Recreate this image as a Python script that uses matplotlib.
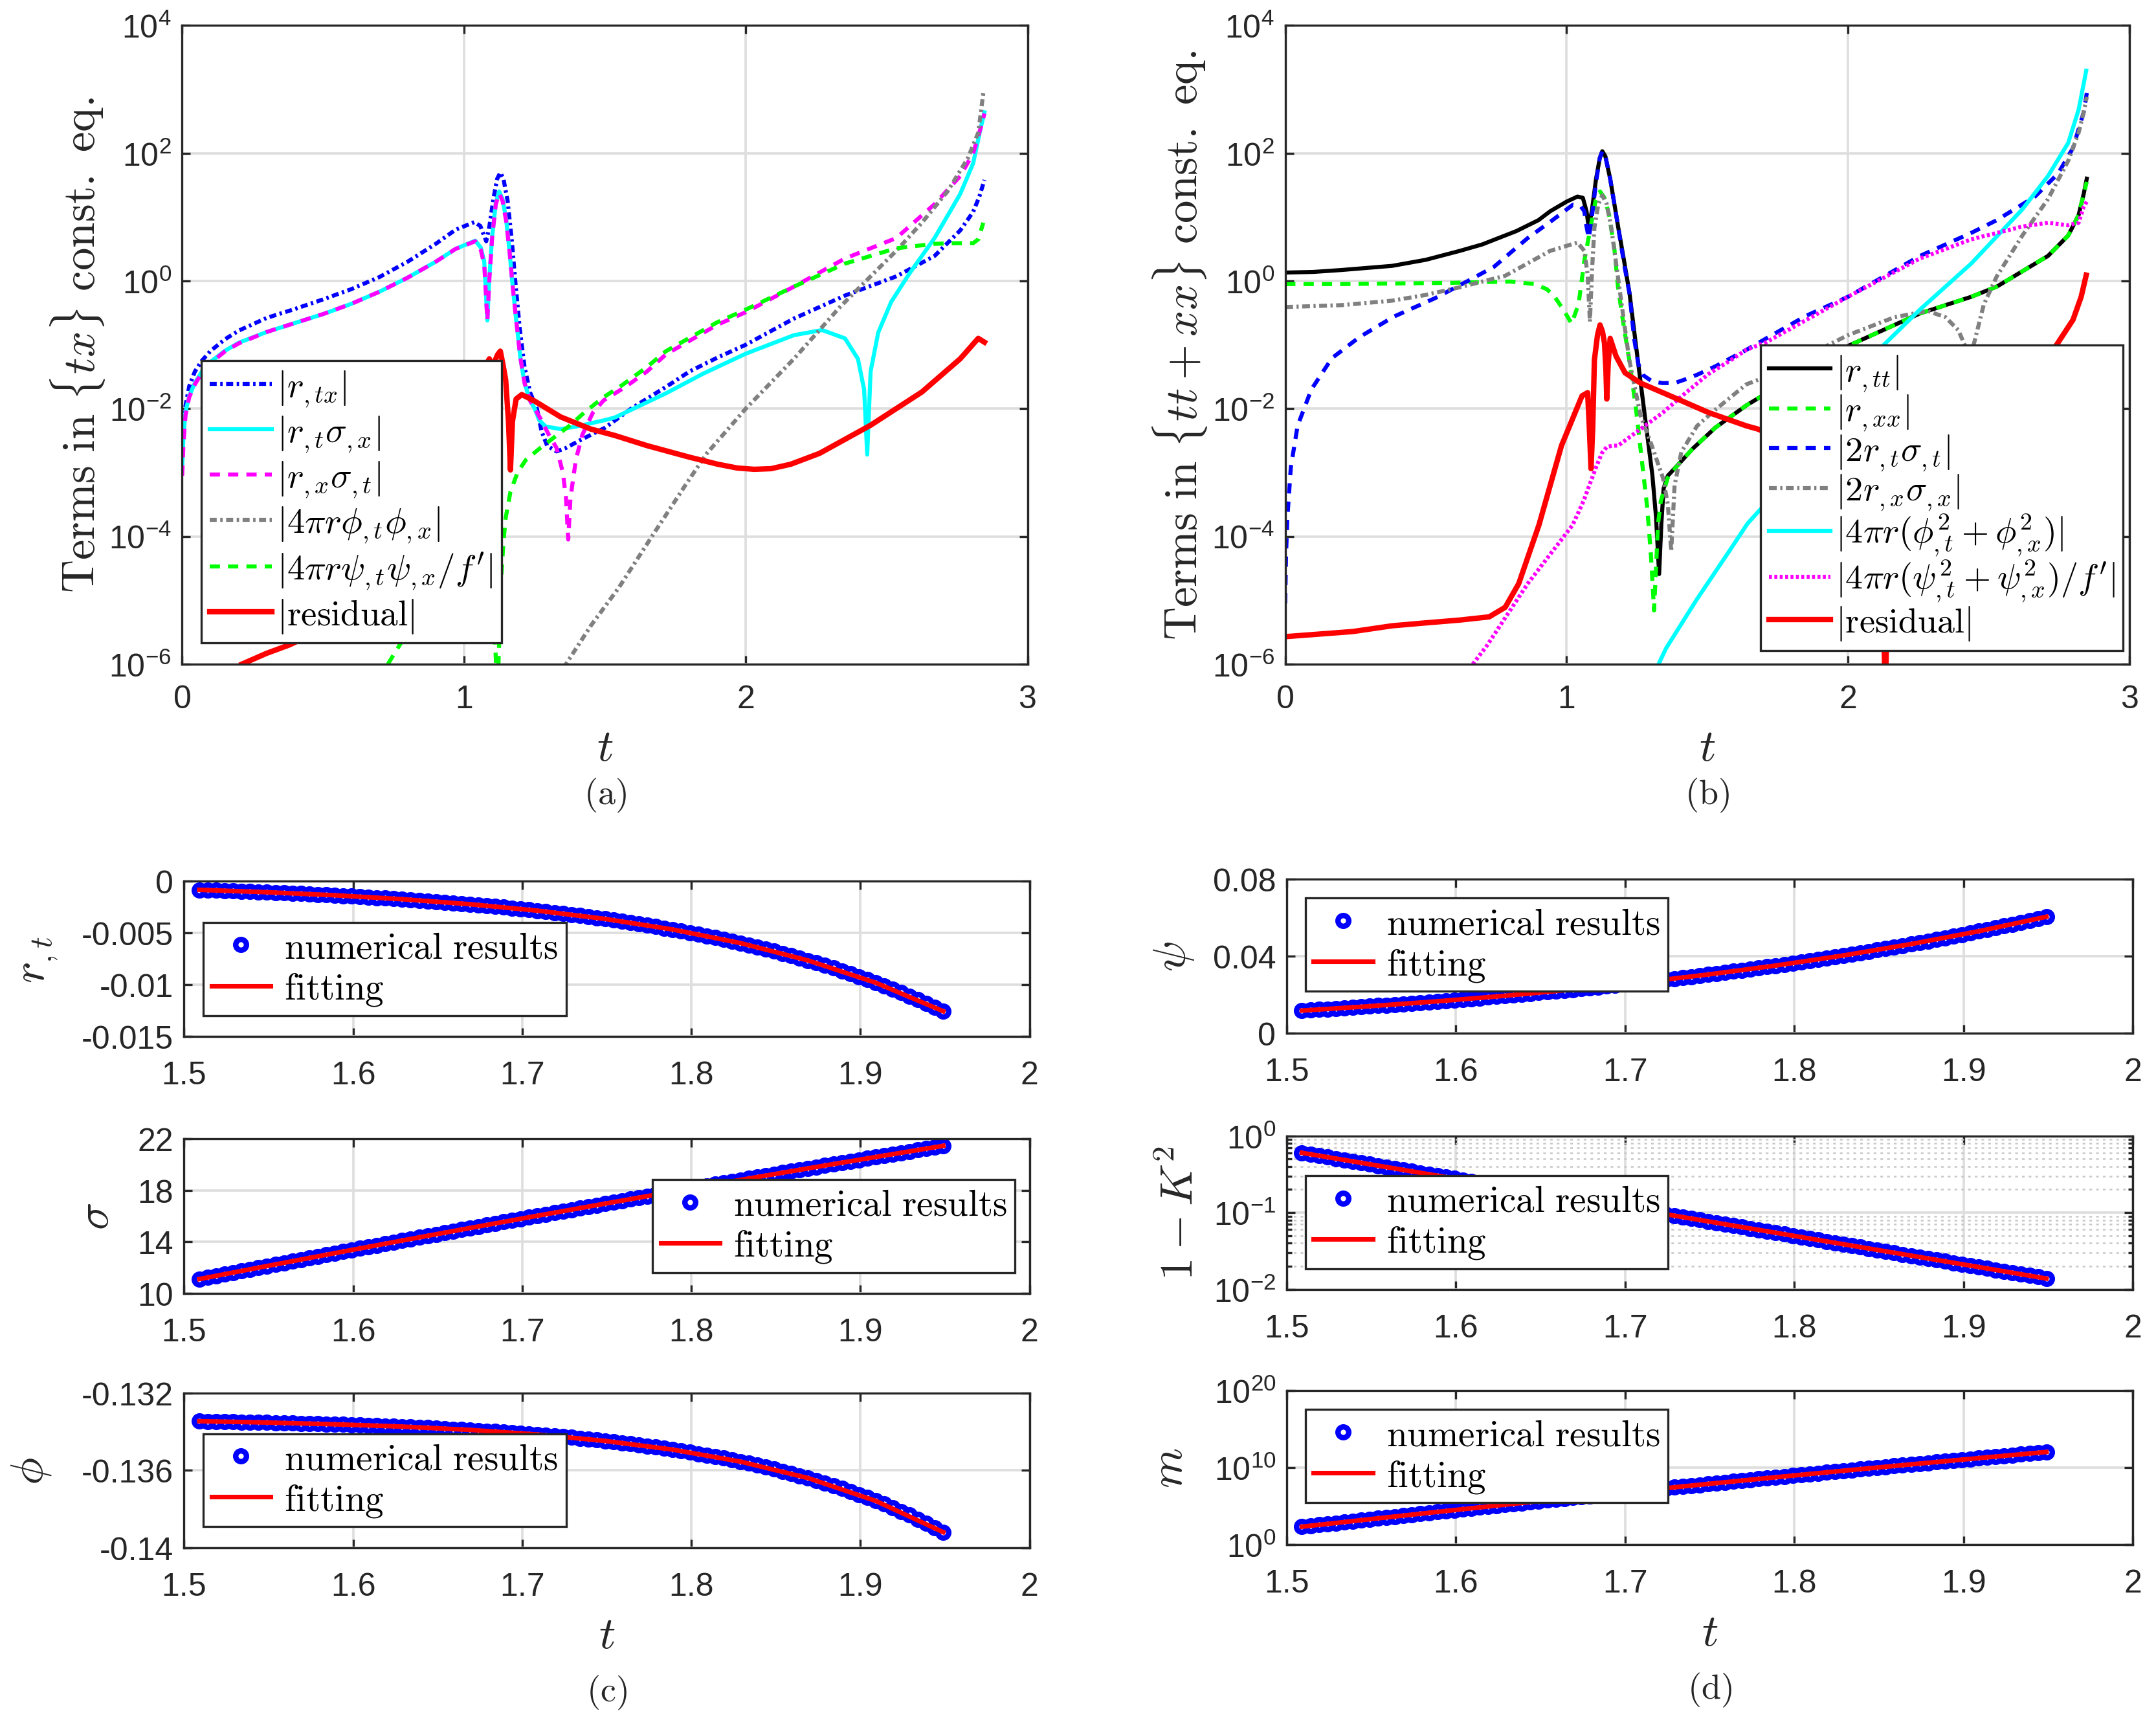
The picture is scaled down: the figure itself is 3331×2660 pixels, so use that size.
import numpy as np
import matplotlib
matplotlib.use("Agg")
import matplotlib.pyplot as plt
from matplotlib.ticker import FixedLocator, FixedFormatter, NullLocator, LogLocator

plt.rcParams['font.family'] = ['Liberation Sans', 'DejaVu Sans']
plt.rcParams['mathtext.fontset'] = 'cm'
plt.rcParams['lines.scale_dashes'] = False
plt.rcParams['axes.unicode_minus'] = False

AX = '#262626'
GRID = '#dedede'

# ---------------- panel (a): terms in {tx} constraint (t, log10|term|)
a_rtx_t = [0.0, 0.005, 0.012, 0.025, 0.045, 0.07, 0.1, 0.15, 0.2, 0.3, 0.4, 0.5, 0.6, 0.7, 0.8, 0.9, 0.97,
           1.037, 1.058, 1.072, 1.079, 1.09, 1.105, 1.118, 1.129, 1.14, 1.155, 1.17, 1.182, 1.198, 1.215,
           1.235, 1.259, 1.275, 1.295, 1.328, 1.36, 1.41, 1.5, 1.6, 1.717, 1.8, 1.9, 2.0, 2.171, 2.352,
           2.534, 2.67, 2.761, 2.807, 2.829, 2.847]
a_rtx_l = [-2.75, -2.3, -1.95, -1.65, -1.42, -1.25, -1.10, -0.92, -0.78, -0.58, -0.44, -0.29, -0.13, 0.06, 0.30,
           0.58, 0.80, 0.92, 0.86, 0.70, 0.62, 0.85, 1.30, 1.60, 1.695, 1.60, 1.25, 0.62, 0.0, -0.75, -1.35,
           -1.75, -2.0, -2.35, -2.58, -2.67, -2.62, -2.50, -2.30, -1.98, -1.66, -1.42, -1.20, -1.0, -0.59, -0.23,
           0.07, 0.39, 0.79, 1.08, 1.32, 1.58]

a_rtsx_t = [0.0, 0.005, 0.012, 0.025, 0.045, 0.07, 0.1, 0.15, 0.2, 0.3, 0.4, 0.5, 0.6, 0.7, 0.8, 0.9, 0.97,
            1.04, 1.06, 1.072, 1.083, 1.09, 1.1, 1.113, 1.125, 1.137, 1.15, 1.162, 1.171, 1.185, 1.2, 1.215,
            1.235, 1.251, 1.267, 1.29, 1.343, 1.4, 1.5, 1.535, 1.717, 1.85, 2.0, 2.171, 2.271, 2.352, 2.398,
            2.42, 2.431, 2.443, 2.47, 2.516, 2.58, 2.67, 2.761, 2.807, 2.834, 2.847]
a_rtsx_l = [-2.9, -2.4, -2.05, -1.8, -1.6, -1.42, -1.27, -1.10, -0.97, -0.80, -0.66, -0.52, -0.36, -0.17, 0.05,
            0.30, 0.50, 0.63, 0.52, 0.30, -0.62, 0.05, 0.70, 1.22, 1.40, 1.28, 0.95, 0.45, 0.0, -0.6, -1.2, -1.6,
            -1.88, -2.0, -2.18, -2.28, -2.32, -2.28, -2.18, -2.14, -1.76, -1.45, -1.14, -0.85, -0.77, -0.90, -1.22,
            -1.70, -2.72, -1.42, -0.81, -0.33, 0.11, 0.67, 1.36, 1.84, 2.40, 2.64]

a_rxst_t = [0.0, 0.005, 0.012, 0.025, 0.045, 0.07, 0.1, 0.15, 0.2, 0.3, 0.4, 0.5, 0.6, 0.7, 0.8, 0.9, 0.97,
            1.04, 1.06, 1.072, 1.083, 1.09, 1.1, 1.113, 1.125, 1.137, 1.15, 1.162, 1.171, 1.185, 1.2, 1.215,
            1.235, 1.251, 1.267, 1.3, 1.328, 1.351, 1.362, 1.37, 1.378, 1.397, 1.42, 1.458, 1.496, 1.573,
            1.649, 1.717, 1.898, 2.0, 2.171, 2.352, 2.534, 2.67, 2.761, 2.807, 2.834, 2.847]
a_rxst_l = [-3.05, -2.5, -2.1, -1.82, -1.62, -1.44, -1.29, -1.11, -0.98, -0.80, -0.66, -0.52, -0.36, -0.17, 0.05,
            0.30, 0.50, 0.62, 0.48, 0.25, -0.62, 0.02, 0.68, 1.20, 1.37, 1.25, 0.93, 0.45, 0.0, -0.6, -1.2, -1.6,
            -1.88, -2.0, -2.12, -2.4, -2.61, -3.0, -3.4, -4.05, -3.4, -2.80, -2.41, -2.06, -1.87, -1.66, -1.42,
            -1.15, -0.69, -0.49, -0.09, 0.35, 0.67, 1.20, 1.64, 2.0, 2.40, 2.62]

a_phi_t = [1.33, 1.362, 1.45, 1.55, 1.67, 1.79, 1.862, 2.0, 2.171, 2.334, 2.443, 2.534, 2.625, 2.716, 2.788,
           2.825, 2.843]
a_phi_l = [-6.3, -6.0, -5.4, -4.8, -3.98, -3.17, -2.70, -2.0, -1.22, -0.41, 0.07, 0.47, 0.91, 1.40, 1.92, 2.32, 2.94]

a_psi_t = [0.73, 0.8, 0.9, 1.0, 1.06, 1.09, 1.105, 1.112, 1.118, 1.124, 1.13, 1.14, 1.148, 1.165, 1.19, 1.22,
           1.267, 1.32, 1.374, 1.43, 1.496, 1.562, 1.649, 1.717, 1.898, 2.0, 2.171, 2.352, 2.534, 2.67, 2.743,
           2.807, 2.825, 2.843]
a_psi_l = [-6.0, -5.5, -4.9, -4.4, -4.2, -4.3, -5.0, -5.8, -6.5, -5.8, -4.8, -4.1, -3.71, -3.3, -3.0, -2.8,
           -2.63, -2.45, -2.27, -2.05, -1.82, -1.63, -1.35, -1.10, -0.65, -0.45, -0.09, 0.27, 0.51, 0.58, 0.59,
           0.59, 0.65, 0.91]

a_res_t = [0.212, 0.3, 0.38, 0.5, 0.6, 0.7, 0.8, 0.9, 0.98, 1.03, 1.06, 1.08, 1.09, 1.1, 1.11, 1.12, 1.129,
           1.138, 1.148, 1.158, 1.165, 1.172, 1.185, 1.205, 1.25, 1.343, 1.45, 1.535, 1.65, 1.8, 1.9, 1.97,
           2.03, 2.09, 2.16, 2.262, 2.443, 2.625, 2.761, 2.825, 2.847]
a_res_l = [-6.0, -5.83, -5.70, -5.45, -5.2, -4.8, -4.3, -3.6, -2.8, -2.1, -1.6, -1.3, -1.22, -1.35, -1.25,
           -1.15, -1.10, -1.3, -1.55, -2.2, -2.96, -2.2, -1.85, -1.78, -1.88, -2.13, -2.32, -2.42, -2.58, -2.76,
           -2.87, -2.93, -2.95, -2.94, -2.87, -2.70, -2.26, -1.74, -1.22, -0.90, -0.96]

# ---------------- panel (b): terms in {tt+xx} constraint (t, log10|term|)
b_rtt_t = [0.0, 0.1, 0.2, 0.38, 0.5, 0.621, 0.7, 0.822, 0.9, 0.942, 1.0, 1.039, 1.058, 1.071, 1.079, 1.09,
           1.105, 1.118, 1.127, 1.138, 1.155, 1.184, 1.205, 1.224, 1.245, 1.265, 1.285, 1.305, 1.318, 1.329,
           1.337, 1.345, 1.36, 1.394, 1.45, 1.504, 1.528, 1.639, 1.71, 1.85, 2.0, 2.256, 2.438, 2.529, 2.62,
           2.711, 2.783, 2.82, 2.838, 2.849]
b_rtt_l = [0.13, 0.14, 0.17, 0.235, 0.33, 0.47, 0.57, 0.78, 0.95, 1.09, 1.24, 1.32, 1.30, 1.09, 0.83, 1.1,
           1.6, 1.92, 2.03, 1.95, 1.6, 0.83, 0.3, -0.20, -0.95, -1.65, -2.35, -3.04, -3.7, -4.59, -3.8, -3.25,
           -3.05, -2.89, -2.62, -2.40, -2.30, -1.95, -1.76, -1.38, -1.02, -0.51, -0.25, -0.09, 0.15, 0.39, 0.71,
           1.03, 1.36, 1.60]

b_rxx_t = [0.0, 0.2, 0.4, 0.6, 0.8, 0.886, 0.93, 0.958, 0.99, 1.018, 1.043, 1.063, 1.087, 1.103, 1.119, 1.135,
           1.151, 1.17, 1.183, 1.203, 1.223, 1.247, 1.271, 1.287, 1.30, 1.311, 1.318, 1.325, 1.335, 1.345, 1.36,
           1.394, 1.45, 1.504, 1.528, 1.639, 1.71, 1.85, 2.0, 2.256, 2.438, 2.529, 2.62, 2.711, 2.783, 2.82,
           2.838, 2.849]
b_rxx_l = [-0.05, -0.05, -0.04, -0.03, -0.01, -0.05, -0.13, -0.25, -0.46, -0.67, -0.36, 0.31, 0.88, 1.25, 1.40,
           1.30, 1.04, 0.5, -0.10, -0.7, -1.24, -2.01, -2.94, -3.56, -4.3, -5.16, -4.5, -3.81, -3.45, -3.30,
           -3.08, -2.89, -2.62, -2.40, -2.30, -1.95, -1.76, -1.38, -1.02, -0.51, -0.25, -0.09, 0.15, 0.39, 0.71,
           1.03, 1.36, 1.55]

b_2rtst_t = [0.0, 0.003, 0.0073, 0.02, 0.044, 0.093, 0.166, 0.264, 0.386, 0.533, 0.65, 0.742, 0.862, 0.95,
             1.022, 1.05, 1.063, 1.071, 1.079, 1.09, 1.105, 1.118, 1.127, 1.138, 1.155, 1.184, 1.205, 1.224,
             1.24, 1.255, 1.27, 1.303, 1.34, 1.384, 1.43, 1.464, 1.528, 1.639, 1.71, 1.85, 2.0, 2.256, 2.438,
             2.529, 2.665, 2.747, 2.80, 2.838, 2.849]
b_2rtst_l = [-5.05, -4.3, -3.74, -2.92, -2.27, -1.70, -1.21, -0.88, -0.56, -0.27, 0.0, 0.22, 0.67, 0.95,
             1.19, 1.17, 1.09, 0.85, 0.67, 1.0, 1.55, 1.92, 2.03, 1.95, 1.6, 0.83, 0.25, -0.2, -0.9, -1.3,
             -1.47, -1.57, -1.60, -1.60, -1.53, -1.47, -1.34, -1.08, -0.90, -0.55, -0.25, 0.39, 0.75, 0.95,
             1.32, 1.68, 2.08, 2.64, 2.94]

b_2rxsx_t = [0.0, 0.2, 0.38, 0.5, 0.621, 0.782, 0.942, 1.039, 1.063, 1.075, 1.083, 1.091, 1.099, 1.113, 1.127,
             1.143, 1.159, 1.183, 1.203, 1.223, 1.263, 1.303, 1.343, 1.36, 1.372, 1.384, 1.408, 1.464, 1.528,
             1.639, 1.71, 2.0, 2.165, 2.283, 2.347, 2.392, 2.415, 2.43, 2.447, 2.483, 2.529, 2.62, 2.711, 2.783,
             2.82, 2.838, 2.849]
b_2rxsx_l = [-0.41, -0.38, -0.31, -0.22, -0.10, 0.08, 0.47, 0.60, 0.47, 0.1, -0.64, 0.2, 0.83, 1.2, 1.34, 1.2,
             0.83, 0.05, -0.6, -1.24, -2.11, -2.58, -3.09, -3.5, -4.23, -3.20, -2.68, -2.27, -2.02, -1.62, -1.50,
             -0.85, -0.57, -0.47, -0.57, -0.77, -1.0, -1.3, -1.0, -0.37, 0.07, 0.71, 1.28, 1.88, 2.32, 2.64, 2.88]

b_phi_t = [1.327, 1.354, 1.461, 1.583, 1.643, 1.705, 1.9, 2.128, 2.256, 2.438, 2.62, 2.711, 2.783, 2.82, 2.847]
b_phi_l = [-6.0, -5.75, -5.0, -4.2, -3.8, -3.5, -2.2, -1.0, -0.45, 0.27, 1.12, 1.64, 2.16, 2.68, 3.29]

b_psi_t = [0.667, 0.717, 0.862, 1.022, 1.06, 1.103, 1.125, 1.143, 1.163, 1.183, 1.263, 1.343, 1.424, 1.504,
           1.584, 1.639, 1.71, 2.0, 2.256, 2.438, 2.529, 2.62, 2.711, 2.783, 2.82, 2.838, 2.849]
b_psi_l = [-6.0, -5.71, -4.74, -3.82, -3.45, -2.94, -2.70, -2.60, -2.58, -2.58, -2.32, -2.06, -1.75, -1.46,
           -1.24, -1.08, -0.96, -0.25, 0.35, 0.65, 0.75, 0.85, 0.91, 0.87, 0.91, 1.16, 1.24]

b_res_t = [0.0, 0.24, 0.38, 0.484, 0.621, 0.725, 0.782, 0.83, 0.902, 0.982, 1.055, 1.075, 1.081, 1.087, 1.093,
           1.099, 1.11, 1.119, 1.128, 1.135, 1.14, 1.143, 1.148, 1.155, 1.176, 1.208, 1.263, 1.384, 1.504, 1.639,
           1.68, 1.8, 1.95, 2.08, 2.12, 2.133, 2.145, 2.2, 2.4, 2.6, 2.742, 2.80, 2.829, 2.847]
b_res_l = [-5.57, -5.49, -5.40, -5.36, -5.31, -5.26, -5.11, -4.74, -3.82, -2.58, -1.80, -1.75, -2.3, -2.94, -2.3,
           -1.24, -0.85, -0.69, -0.8, -0.98, -1.4, -1.85, -1.3, -0.90, -1.18, -1.44, -1.60, -1.83, -2.06, -2.27,
           -2.32, -2.55, -2.8, -3.1, -4.0, -6.5, -4.0, -3.0, -2.4, -1.7, -1.0, -0.61, -0.25, 0.09]

# ---------------- panels (c), (d): numerical results vs fitting
t_num = [1.509, 1.514, 1.519, 1.524, 1.529, 1.534, 1.539, 1.544, 1.549, 1.554, 1.559, 1.564, 1.569, 1.574,
         1.579, 1.584, 1.589, 1.594, 1.599, 1.604, 1.609, 1.614, 1.619, 1.624, 1.629, 1.634, 1.639, 1.644,
         1.649, 1.654, 1.659, 1.664, 1.669, 1.674, 1.679, 1.684, 1.689, 1.694, 1.699, 1.704, 1.709, 1.714,
         1.719, 1.724, 1.729, 1.734, 1.739, 1.744, 1.749, 1.754, 1.759, 1.764, 1.769, 1.774, 1.779, 1.784,
         1.789, 1.794, 1.799, 1.804, 1.809, 1.814, 1.819, 1.824, 1.829, 1.834, 1.839, 1.844, 1.849, 1.854,
         1.859, 1.864, 1.869, 1.874, 1.879, 1.884, 1.889, 1.894, 1.899, 1.904, 1.909, 1.914, 1.919, 1.924,
         1.929, 1.934, 1.939, 1.944, 1.949]
rt_num = [-0.000820, -0.000846, -0.000872, -0.000899, -0.000928, -0.000957, -0.000988, -0.001019, -0.001051,
          -0.001084, -0.001118, -0.001153, -0.001190, -0.001227, -0.001266, -0.001306, -0.001347, -0.001389,
          -0.001433, -0.001478, -0.001525, -0.001573, -0.001622, -0.001673, -0.001726, -0.001780, -0.001837,
          -0.001895, -0.001954, -0.002016, -0.002079, -0.002144, -0.002212, -0.002282, -0.002354, -0.002428,
          -0.002505, -0.002584, -0.002665, -0.002749, -0.002836, -0.002925, -0.003017, -0.003112, -0.003210,
          -0.003311, -0.003416, -0.003524, -0.003634, -0.003748, -0.003867, -0.003989, -0.004114, -0.004244,
          -0.004377, -0.004515, -0.004658, -0.004805, -0.004956, -0.005112, -0.005273, -0.005439, -0.005610,
          -0.005787, -0.005969, -0.006157, -0.006351, -0.006551, -0.006758, -0.006971, -0.007190, -0.007416,
          -0.007651, -0.007892, -0.008140, -0.008396, -0.008661, -0.008934, -0.009216, -0.009506, -0.009805,
          -0.010114, -0.010433, -0.010761, -0.011101, -0.011450, -0.011811, -0.012183, -0.012567]
sigma_num = [11.100, 11.227, 11.354, 11.481, 11.608, 11.735, 11.861, 11.987, 12.113, 12.239, 12.364, 12.489,
             12.614, 12.739, 12.863, 12.987, 13.111, 13.235, 13.359, 13.482, 13.605, 13.728, 13.851, 13.973,
             14.095, 14.217, 14.339, 14.461, 14.582, 14.703, 14.824, 14.945, 15.065, 15.185, 15.305, 15.425,
             15.544, 15.664, 15.783, 15.902, 16.020, 16.139, 16.257, 16.375, 16.492, 16.610, 16.727, 16.844,
             16.961, 17.078, 17.194, 17.310, 17.426, 17.542, 17.657, 17.772, 17.887, 18.002, 18.117, 18.231,
             18.345, 18.459, 18.573, 18.686, 18.799, 18.912, 19.025, 19.138, 19.250, 19.362, 19.474, 19.586,
             19.697, 19.808, 19.919, 20.030, 20.140, 20.251, 20.361, 20.471, 20.580, 20.690, 20.799, 20.908,
             21.016, 21.125, 21.233, 21.341, 21.449]
phi_num = [-0.13345, -0.13346, -0.13346, -0.13347, -0.13348, -0.13349, -0.13350, -0.13351, -0.13352, -0.13353,
           -0.13354, -0.13355, -0.13356, -0.13357, -0.13358, -0.13359, -0.13361, -0.13362, -0.13363, -0.13365,
           -0.13366, -0.13368, -0.13370, -0.13371, -0.13373, -0.13375, -0.13377, -0.13379, -0.13381, -0.13383,
           -0.13386, -0.13388, -0.13390, -0.13393, -0.13396, -0.13398, -0.13401, -0.13404, -0.13408, -0.13411,
           -0.13414, -0.13418, -0.13421, -0.13425, -0.13429, -0.13433, -0.13438, -0.13442, -0.13447, -0.13452,
           -0.13457, -0.13462, -0.13468, -0.13473, -0.13479, -0.13485, -0.13492, -0.13499, -0.13506, -0.13513,
           -0.13520, -0.13528, -0.13536, -0.13545, -0.13554, -0.13563, -0.13573, -0.13583, -0.13593, -0.13604,
           -0.13615, -0.13627, -0.13639, -0.13652, -0.13665, -0.13679, -0.13693, -0.13708, -0.13724, -0.13740,
           -0.13757, -0.13774, -0.13793, -0.13812, -0.13831, -0.13852, -0.13873, -0.13896, -0.13919]
psi_num = [0.01170, 0.01197, 0.01224, 0.01252, 0.01280, 0.01308, 0.01337, 0.01367, 0.01397, 0.01427, 0.01458,
           0.01489, 0.01520, 0.01553, 0.01585, 0.01618, 0.01652, 0.01686, 0.01721, 0.01756, 0.01792, 0.01828,
           0.01865, 0.01902, 0.01940, 0.01979, 0.02018, 0.02057, 0.02098, 0.02138, 0.02180, 0.02222, 0.02265,
           0.02308, 0.02352, 0.02397, 0.02442, 0.02488, 0.02535, 0.02583, 0.02631, 0.02680, 0.02730, 0.02780,
           0.02831, 0.02883, 0.02936, 0.02989, 0.03044, 0.03099, 0.03155, 0.03212, 0.03270, 0.03328, 0.03388,
           0.03448, 0.03509, 0.03571, 0.03635, 0.03699, 0.03764, 0.03830, 0.03897, 0.03965, 0.04034, 0.04104,
           0.04175, 0.04248, 0.04321, 0.04395, 0.04471, 0.04548, 0.04626, 0.04705, 0.04785, 0.04866, 0.04949,
           0.05033, 0.05119, 0.05205, 0.05293, 0.05382, 0.05473, 0.05565, 0.05658, 0.05753, 0.05849, 0.05946,
           0.06045]
k2_num = [0.6026, 0.5773, 0.5531, 0.5299, 0.5076, 0.4863, 0.4659, 0.4463, 0.4276, 0.4096, 0.3924, 0.3759,
          0.3602, 0.3451, 0.3306, 0.3167, 0.3034, 0.2907, 0.2785, 0.2668, 0.2556, 0.2449, 0.2346, 0.2247,
          0.2153, 0.2063, 0.1976, 0.1893, 0.1813, 0.1737, 0.1664, 0.1594, 0.1528, 0.1464, 0.1402, 0.1343,
          0.1287, 0.1233, 0.1181, 0.1131, 0.1084, 0.1038, 0.0995, 0.0953, 0.0913, 0.0875, 0.0838, 0.0803,
          0.0769, 0.0737, 0.0706, 0.0676, 0.0648, 0.0621, 0.0595, 0.0570, 0.0546, 0.0523, 0.0501, 0.0480,
          0.0460, 0.0441, 0.0422, 0.0404, 0.0387, 0.0371, 0.0355, 0.0340, 0.0326, 0.0312, 0.0299, 0.0286,
          0.0275, 0.0263, 0.0252, 0.0241, 0.0231, 0.0221, 0.0212, 0.0203, 0.0195, 0.0187, 0.0179, 0.0171,
          0.0164, 0.0157, 0.0151, 0.0145, 0.0138]
logm_num = [2.300, 2.422, 2.544, 2.666, 2.788, 2.909, 3.030, 3.151, 3.271, 3.391, 3.511, 3.631, 3.750, 3.869,
            3.988, 4.107, 4.225, 4.343, 4.460, 4.578, 4.695, 4.812, 4.928, 5.045, 5.161, 5.277, 5.392, 5.507,
            5.622, 5.737, 5.851, 5.965, 6.079, 6.193, 6.306, 6.419, 6.532, 6.644, 6.756, 6.868, 6.980, 7.091,
            7.202, 7.313, 7.424, 7.534, 7.644, 7.754, 7.863, 7.972, 8.081, 8.190, 8.298, 8.406, 8.514, 8.622,
            8.729, 8.836, 8.942, 9.049, 9.155, 9.261, 9.366, 9.472, 9.577, 9.682, 9.786, 9.890, 9.994, 10.098,
            10.201, 10.304, 10.407, 10.510, 10.612, 10.714, 10.816, 10.917, 11.018, 11.119, 11.220, 11.320,
            11.420, 11.520, 11.620, 11.719, 11.818, 11.917, 12.015]

t_fit = [1.509, 1.549, 1.589, 1.629, 1.669, 1.709, 1.749, 1.789, 1.829, 1.869, 1.909, 1.949]
rt_fit = [-0.000820, -0.001051, -0.001347, -0.001726, -0.002212, -0.002836, -0.003634, -0.004658, -0.005969,
          -0.007651, -0.009805, -0.012567]
sigma_fit = [11.100, 12.113, 13.111, 14.095, 15.065, 16.020, 16.961, 17.887, 18.799, 19.697, 20.580, 21.449]
phi_fit = [-0.13345, -0.13352, -0.13361, -0.13373, -0.13390, -0.13414, -0.13447, -0.13492, -0.13554, -0.13639,
           -0.13757, -0.13919]
psi_fit = [0.01170, 0.01397, 0.01652, 0.01940, 0.02265, 0.02631, 0.03044, 0.03509, 0.04034, 0.04626, 0.05293,
           0.06045]
k2_fit = [0.6026, 0.4276, 0.3034, 0.2153, 0.1528, 0.1084, 0.0769, 0.0546, 0.0387, 0.0275, 0.0195, 0.0138]
logm_fit = [2.300, 3.271, 4.225, 5.161, 6.079, 6.980, 7.863, 8.729, 9.577, 10.407, 11.220, 12.015]


def style(ax, xpad=7.5):
    for s in ax.spines.values():
        s.set_color(AX)
        s.set_linewidth(0.8)
    ax.tick_params(which='both', direction='in', top=True, right=True, color=AX, labelcolor=AX,
                   labelsize=12, width=0.8)
    ax.tick_params(which='major', length=3.2)
    ax.tick_params(which='minor', length=1.8)
    ax.tick_params(axis='x', pad=xpad)
    ax.tick_params(axis='y', pad=4)
    ax.grid(True, which='major', color=GRID, linewidth=0.9)
    ax.set_axisbelow(True)


def logticks(ax, exps):
    ax.yaxis.set_major_locator(FixedLocator([10.0 ** e for e in exps]))
    ax.yaxis.set_major_formatter(FixedFormatter([r'$\mathdefault{10^{%d}}$' % e for e in exps]))


def ylab(ax, txt, x):
    ax.set_ylabel(txt, fontsize=17, color=AX)
    ax.yaxis.label.set_va('center')
    ax.yaxis.set_label_coords(x, 0.5)


def xlab(ax, y):
    ax.set_xlabel(r'$t$', fontsize=17, color=AX)
    ax.xaxis.label.set_va('center')
    ax.xaxis.set_label_coords(0.5, y)


def pw(ts, ls):
    return np.array(ts), 10.0 ** np.array(ls)


def legend(ax, anchor, fs, hl, htp, bp, ls, **kw):
    lg = ax.legend(loc='upper left', bbox_to_anchor=anchor, borderaxespad=0, fancybox=False, framealpha=1,
                   edgecolor=AX, fontsize=fs, handlelength=hl, handletextpad=htp, borderpad=bp,
                   labelspacing=ls, **kw)
    lg.get_frame().set_linewidth(0.8)
    return lg


fig = plt.figure(figsize=(3331 / 300, 2661 / 300), dpi=300)

# ---------- (a)
ax = fig.add_axes([0.0845, 0.6141, 0.3921, 0.3708])
style(ax)
ax.plot(*pw(a_rtx_t, a_rtx_l), color='#0000ff', lw=1.5, dashes=(2.6, 1.3, 0.9, 1.3), label=r'$|r_{,tx}|$')
ax.plot(*pw(a_rtsx_t, a_rtsx_l), color='#00ffff', lw=1.5, label=r'$|r_{,t}\sigma_{,x}|$')
ax.plot(*pw(a_rxst_t, a_rxst_l), color='#ff00ff', lw=1.5, dashes=(3.8, 3.0), label=r'$|r_{,x}\sigma_{,t}|$')
ax.plot(*pw(a_phi_t, a_phi_l), color='#808080', lw=1.5, dashes=(2.6, 1.3, 0.9, 1.3),
        label=r'$|4\pi r\phi_{,t}\phi_{,x}|$')
ax.plot(*pw(a_psi_t, a_psi_l), color='#00ff00', lw=1.5, dashes=(3.8, 3.0),
        label=r'$|4\pi r\psi_{,t}\psi_{,x}/f^{\prime}|$')
ax.plot(*pw(a_res_t, a_res_l), color='#ff0000', lw=2.0, label=r'$|\mathrm{residual}|$')
ax.set_yscale('log')
ax.set_xlim(0, 3)
ax.set_ylim(1e-6, 1e4)
ax.set_xticks([0, 1, 2, 3])
ax.set_xticklabels(['0', '1', '2', '3'])
logticks(ax, [-6, -4, -2, 0, 2, 4])
ax.yaxis.set_minor_locator(NullLocator())
ylab(ax, r'$\mathrm{Terms\ in\ }\{tx\}\mathrm{\ const.\ eq.}$', -0.124)
xlab(ax, -0.1317)
legend(ax, (0.0228, 0.475), 13.2, 1.75, 0.15, 0.23, 0.15)
fig.text(0.2806, 0.538, r'$\mathrm{(a)}$', ha='center', va='center', fontsize=13, color=AX)

# ---------- (b)
ax = fig.add_axes([0.5961, 0.6141, 0.3915, 0.3708])
style(ax)
ax.plot(*pw(b_rtt_t, b_rtt_l), color='black', lw=1.5, label=r'$|r_{,tt}|$')
ax.plot(*pw(b_rxx_t, b_rxx_l), color='#00ff00', lw=1.5, dashes=(3.8, 3.0), label=r'$|r_{,xx}|$')
ax.plot(*pw(b_2rtst_t, b_2rtst_l), color='#0000ff', lw=1.5, dashes=(3.8, 3.0), label=r'$|2r_{,t}\sigma_{,t}|$')
ax.plot(*pw(b_2rxsx_t, b_2rxsx_l), color='#808080', lw=1.5, dashes=(2.9, 1.3, 0.8, 1.3),
        label=r'$|2r_{,x}\sigma_{,x}|$')
ax.plot(*pw(b_phi_t, b_phi_l), color='#00ffff', lw=1.5, label=r'$|4\pi r(\phi_{,t}^2+\phi_{,x}^2)|$')
ax.plot(*pw(b_psi_t, b_psi_l), color='#ff00ff', lw=1.5, dashes=(1.1, 0.9),
        label=r'$|4\pi r(\psi_{,t}^2+\psi_{,x}^2)/f^{\prime}|$')
ax.plot(*pw(b_res_t, b_res_l), color='#ff0000', lw=2.0, label=r'$|\mathrm{residual}|$')
ax.set_yscale('log')
ax.set_xlim(0, 3)
ax.set_ylim(1e-6, 1e4)
ax.set_xticks([0, 1, 2, 3])
ax.set_xticklabels(['0', '1', '2', '3'])
logticks(ax, [-6, -4, -2, 0, 2, 4])
ax.yaxis.set_minor_locator(NullLocator())
ylab(ax, r'$\mathrm{Terms\ in\ }\{tt+xx\}\mathrm{\ const.\ eq.}$', -0.125)
xlab(ax, -0.1317)
legend(ax, (0.5634, 0.4996), 13.0, 1.75, 0.15, 0.23, 0.0)
fig.text(0.5961 + 0.3915 / 2, 0.538, r'$\mathrm{(b)}$', ha='center', va='center', fontsize=13, color=AX)

# ---------- (c), (d)
small = [
    # rect, y_num, y_fit, ylabel, label x, legend anchor, kind
    ([0.0854, 0.3980, 0.3921, 0.0900], rt_num, rt_fit, r'$r_{,t}$', -0.173, (0.0228, 0.735), 'rt'),
    ([0.0854, 0.2489, 0.3921, 0.0897], sigma_num, sigma_fit, r'$\sigma$', -0.104, (0.554, 0.735), 'sigma'),
    ([0.0854, 0.1011, 0.3921, 0.0898], phi_num, phi_fit, r'$\phi$', -0.181, (0.0228, 0.738), 'phi'),
    ([0.5968, 0.3999, 0.3924, 0.0894], psi_num, psi_fit, r'$\psi$', -0.133, (0.022, 0.876), 'psi'),
    ([0.5968, 0.2512, 0.3924, 0.0890], k2_num, k2_fit, r'$1-K^2$', -0.125, (0.022, 0.74), 'k2'),
    ([0.5968, 0.1031, 0.3924, 0.0893], logm_num, logm_fit, r'$m$', -0.138, (0.022, 0.876), 'm'),
]

for rect, yn, yf, lab, lx, anc, kind in small:
    ax = fig.add_axes(rect)
    style(ax, xpad=9)
    yn = np.array(yn)
    yf = np.array(yf)
    if kind == 'm':
        yn = 10.0 ** yn
        yf = 10.0 ** yf
    ax.plot(t_num, yn, 'o', ms=4.0, mfc='none', mec='#0000ff', mew=2.0, label=r'$\mathrm{numerical\ results}$')
    ax.plot(t_fit, yf, '-', color='#ff0000', lw=1.7, label=r'$\mathrm{fitting}$')
    ax.set_xlim(1.5, 2)
    ax.set_xticks([1.5, 1.6, 1.7, 1.8, 1.9, 2.0])
    ax.set_xticklabels(['1.5', '1.6', '1.7', '1.8', '1.9', '2'])
    if kind == 'rt':
        ax.set_ylim(-0.015, 0)
        ax.set_yticks([-0.015, -0.01, -0.005, 0])
        ax.set_yticklabels(['-0.015', '-0.01', '-0.005', '0'])
    elif kind == 'sigma':
        ax.set_ylim(10, 22)
        ax.set_yticks([10, 14, 18, 22])
        ax.set_yticklabels(['10', '14', '18', '22'])
    elif kind == 'phi':
        ax.set_ylim(-0.14, -0.132)
        ax.set_yticks([-0.14, -0.136, -0.132])
        ax.set_yticklabels(['-0.14', '-0.136', '-0.132'])
    elif kind == 'psi':
        ax.set_ylim(0, 0.08)
        ax.set_yticks([0, 0.04, 0.08])
        ax.set_yticklabels(['0', '0.04', '0.08'])
    elif kind == 'k2':
        ax.set_yscale('log')
        ax.set_ylim(1e-2, 1e0)
        logticks(ax, [-2, -1, 0])
        ax.yaxis.set_minor_locator(LogLocator(base=10, subs=np.arange(2, 10)))
        ax.grid(True, which='minor', axis='y', color='#c8c8c8', linewidth=0.6, linestyle=(0, (1, 1.5)))
    elif kind == 'm':
        ax.set_yscale('log')
        ax.set_ylim(1e0, 1e20)
        logticks(ax, [0, 10, 20])
        ax.yaxis.set_minor_locator(NullLocator())
    ylab(ax, lab, lx)
    legend(ax, anc, 13.7, 1.6, 0.37, 0.22, 0.15, numpoints=1)
    if kind == 'phi':
        xlab(ax, -0.569)
    if kind == 'm':
        xlab(ax, -0.577)

fig.text(0.0854 + 0.3921 / 2, 0.0173, r'$\mathrm{(c)}$', ha='center', va='center', fontsize=13, color=AX)
fig.text(0.5968 + 0.3924 / 2, 0.0189, r'$\mathrm{(d)}$', ha='center', va='center', fontsize=13, color=AX)

fig.savefig('out.png', dpi=300, facecolor='white')
